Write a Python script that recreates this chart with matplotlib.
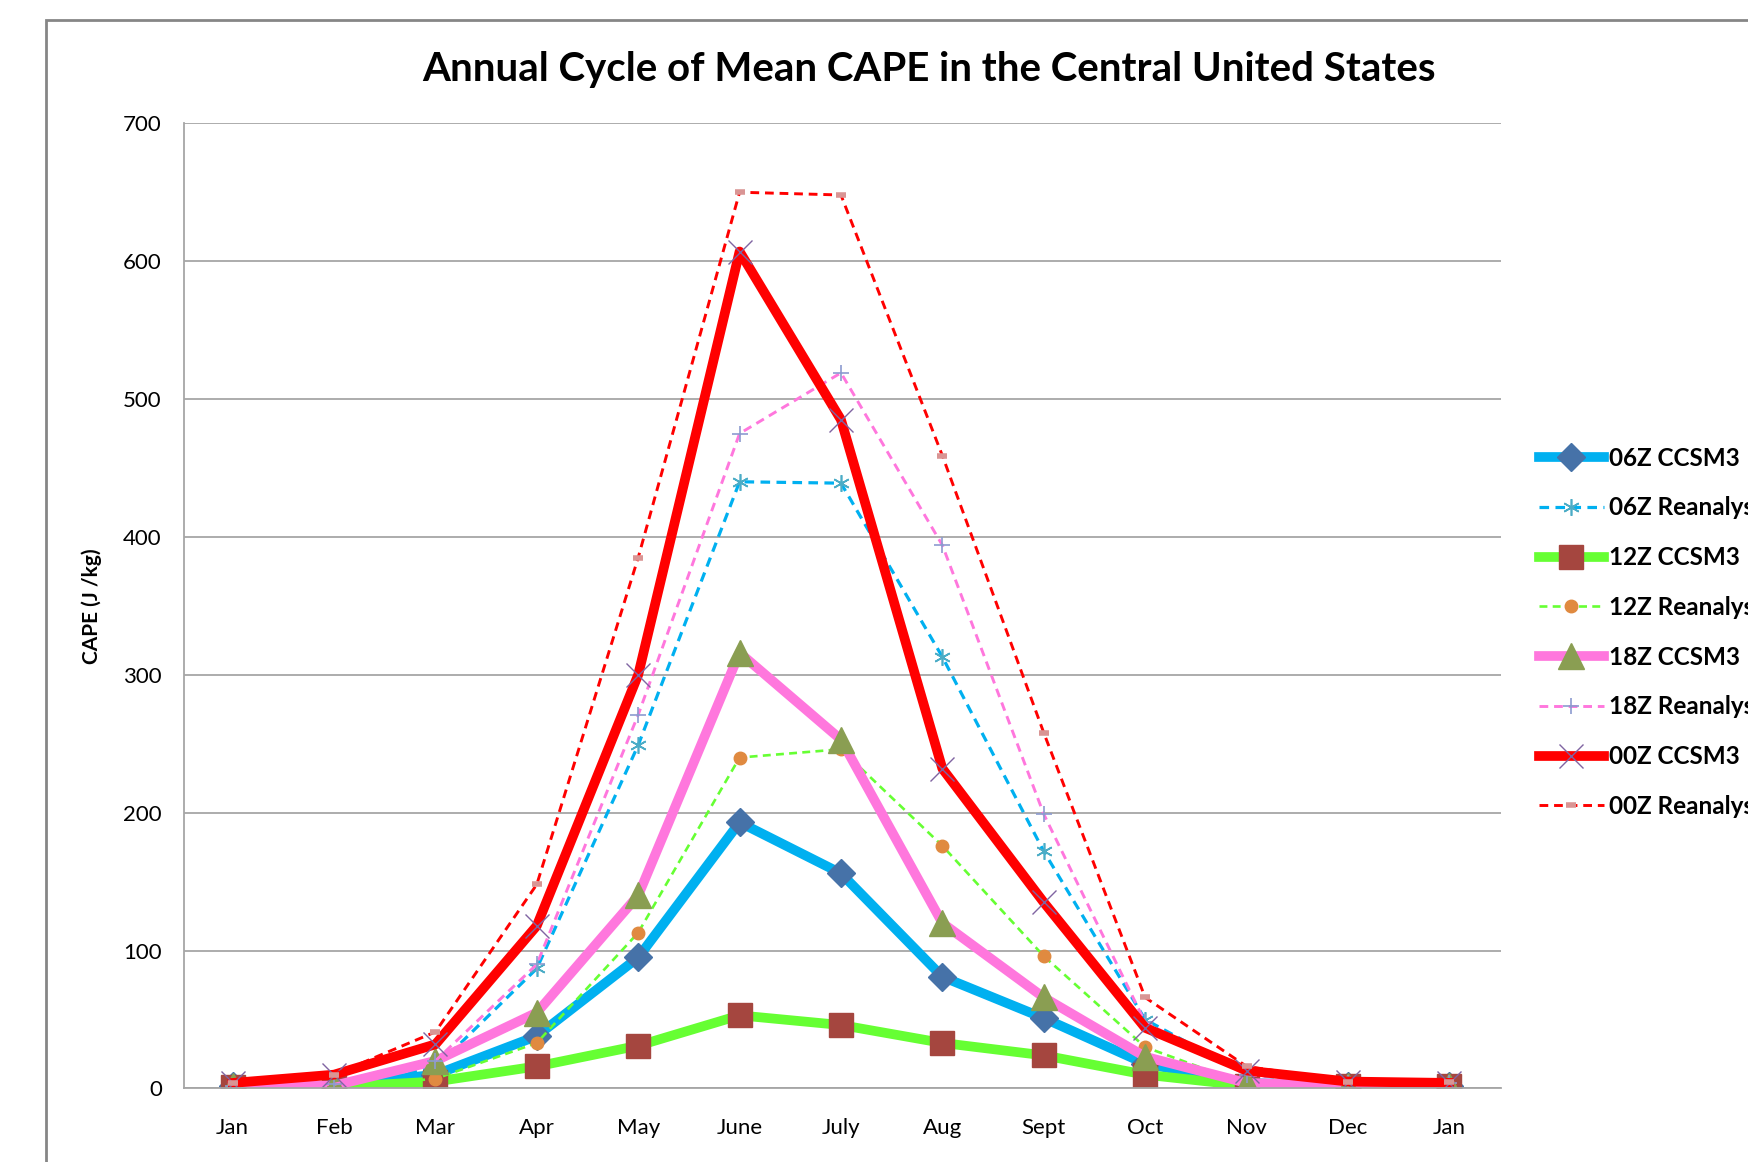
import matplotlib
matplotlib.use("Agg")
import matplotlib.pyplot as plt
from matplotlib.patches import Rectangle

plt.rcParams['font.family'] = ['Lato', 'DejaVu Sans']

months = ["Jan", "Feb", "Mar", "Apr", "May", "June", "July", "Aug", "Sept", "Oct", "Nov", "Dec", "Jan"]

ccsm_06 = [2, 2, 10, 38, 95, 193, 156, 81, 51, 18, 4, 2, 2]
rean_06 = [2, 3, 15, 87, 249, 440, 439, 313, 172, 50, 10, 4, 4]
ccsm_12 = [1, 1, 5, 16, 31, 53, 46, 33, 24, 10, 2, 2, 2]
rean_12 = [1, 1, 7, 33, 113, 240, 246, 176, 96, 30, 3, 2, 2]
ccsm_18 = [2, 2, 20, 55, 140, 316, 253, 120, 66, 23, 4, 2, 2]
rean_18 = [2, 3, 20, 90, 271, 475, 519, 394, 199, 48, 10, 4, 4]
ccsm_00 = [4, 10, 32, 118, 300, 607, 485, 232, 135, 44, 13, 5, 4]
rean_00 = [4, 10, 41, 148, 385, 650, 648, 459, 258, 66, 16, 5, 5]

fig = plt.figure(figsize=(17.49, 11.62), dpi=100)
ax = fig.add_axes([0.1052, 0.0633, 0.7530, 0.8306])

x = list(range(len(months)))

ax.plot(x, ccsm_06, color='#00B0F0', lw=7, marker='D', ms=14, mfc='#4672A8', mec='#4672A8', label='06Z CCSM3')
ax.plot(x, rean_06, color='#00B0F0', lw=2.3, ls=(0, (3, 2)), marker=(6, 2, 0), ms=12, mec='#4BACC6', mew=1.2, label='06Z Reanalysis')
ax.plot(x, ccsm_12, color='#66FF33', lw=7, marker='s', ms=17, mfc='#A5463F', mec='#A5463F', label='12Z CCSM3')
ax.plot(x, rean_12, color='#66FF33', lw=1.9, ls=(0, (3, 2)), marker='o', ms=9, mfc='#E08A40', mec='#E08A40', label='12Z Reanalysis')
ax.plot(x, ccsm_18, color='#FF77DD', lw=7, marker='^', ms=19, mfc='#8A9E52', mec='#8A9E52', label='18Z CCSM3')
ax.plot(x, rean_18, color='#FF77DD', lw=2.1, ls=(0, (3, 2)), marker='+', ms=12, mec='#8C9BD0', mew=1.2, label='18Z Reanalysis')
ax.plot(x, ccsm_00, color='#FF0000', lw=7, marker='x', ms=17, mec='#8064A2', mew=1.0, label='00Z CCSM3')
ax.plot(x, rean_00, color='#FF0000', lw=2.1, ls=(0, (3, 2)), marker='_', ms=7, mec='#D99594', mew=4, label='00Z Reanalysis')

ax.set_xlim(-0.48, 12.51)
ax.set_ylim(0, 700)
ax.set_yticks(range(0, 701, 100))
ax.set_xticks(x)
ax.set_xticklabels(months)
ax.tick_params(axis='both', length=0, labelsize=16, colors='#000000')
ax.tick_params(axis='x', pad=21)
ax.tick_params(axis='y', pad=16)
ax.grid(axis='y', color='#A6A6A6', lw=1.3)
ax.set_axisbelow(True)
for s in ['top', 'right']:
    ax.spines[s].set_visible(False)
for s in ['left', 'bottom']:
    ax.spines[s].set_color('#A6A6A6')
    ax.spines[s].set_linewidth(1.3)

ax.set_ylabel("CAPE (J /kg)", fontsize=15, fontweight='bold', labelpad=15)

fig.text(0.531, 0.940, "Annual Cycle of Mean CAPE in the Central United States",
         ha='center', va='center', fontsize=29, fontweight='bold')

leg = fig.legend(loc='upper left', bbox_to_anchor=(0.8743, 0.624), frameon=False,
                 prop={'size': 17.5, 'weight': 'bold'}, handlelength=2.67,
                 handletextpad=0.2, labelspacing=1.1, borderaxespad=0)

fig.patches.append(Rectangle((0.0263, -0.1), 1.2, 1.0828, transform=fig.transFigure,
                             fill=False, edgecolor='#868686', lw=2))

fig.savefig("out.png", dpi=100)
